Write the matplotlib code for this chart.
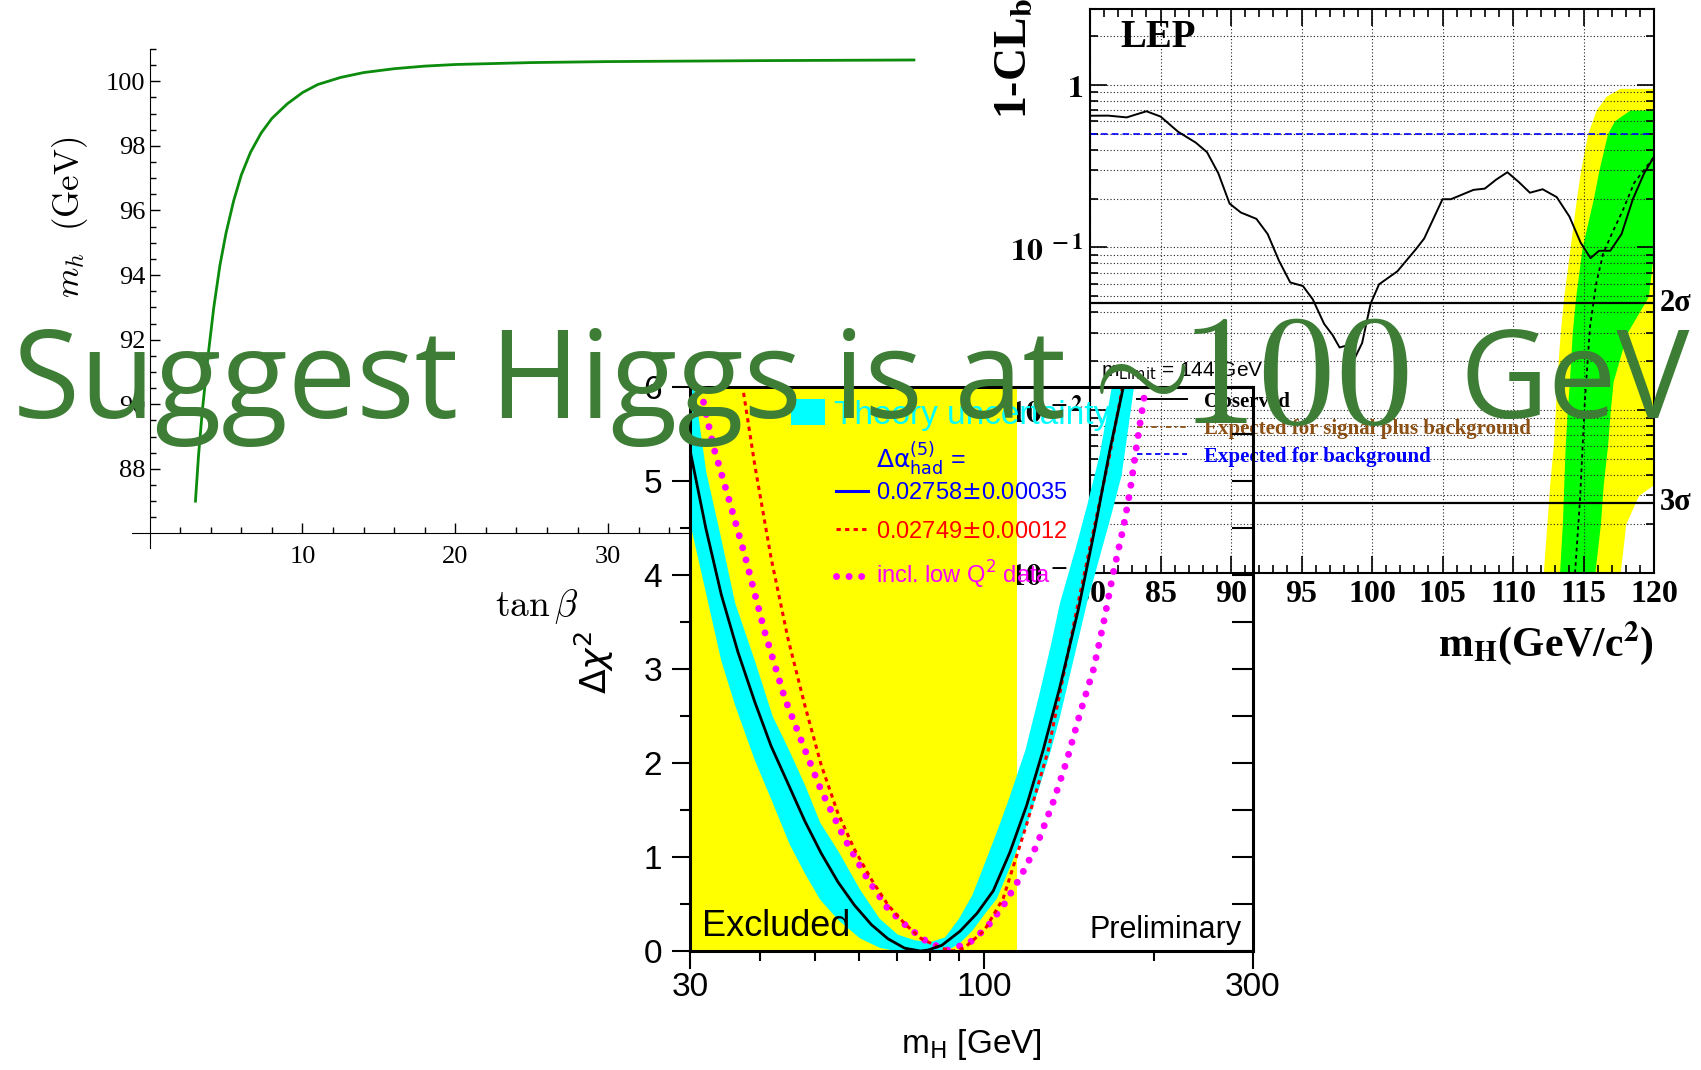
import numpy as np
import matplotlib
matplotlib.use('Agg')
import matplotlib.pyplot as plt
import matplotlib.transforms as mtrans
from matplotlib.patches import Patch
from matplotlib.lines import Line2D
from matplotlib.ticker import FixedLocator, NullFormatter, LogLocator

W, H = 1701, 1070

# left panel: light higgs mass vs tan(beta)
tanb = [3.0, 3.2, 3.45, 3.8, 4.2, 4.6, 5.0, 5.5, 6.0, 6.6, 7.3, 8.0, 9.0, 10.0,
        11.0, 12.5, 14.0, 16.0, 18.0, 20.0, 25.0, 30.0, 40.0, 50.0]
mh = [87.0, 88.4, 89.8, 91.4, 93.0, 94.3, 95.3, 96.3, 97.1, 97.8, 98.4, 98.85,
      99.3, 99.65, 99.9, 100.12, 100.27, 100.39, 100.47, 100.52, 100.58, 100.61,
      100.64, 100.66]

# LEP 1-CLb panel
lep_m = [80.0, 81.3, 82.6, 84.0, 85.0, 86.25, 87.5, 88.3, 89.1, 89.9, 90.7, 91.8,
         92.6, 93.4, 94.2, 95.1, 95.8, 96.6, 97.2, 97.7, 98.2, 98.8, 99.3, 99.9,
         100.5, 101.8, 103.1, 103.7, 105.0, 105.6, 107.2, 108.0, 108.8, 109.6,
         110.4, 111.2, 112.1, 113.1, 114.0, 114.8, 115.5, 116.1, 116.9, 117.7,
         118.5, 119.3, 120.0]
lep_obs = [0.645, 0.646, 0.63, 0.687, 0.638, 0.514, 0.441, 0.385, 0.286, 0.186,
           0.164, 0.150, 0.121, 0.083, 0.061, 0.058, 0.048, 0.034, 0.029, 0.0243,
           0.025, 0.0211, 0.0259, 0.0451, 0.0594, 0.0714, 0.0973, 0.1135, 0.198,
           0.198, 0.226, 0.23, 0.261, 0.29, 0.253, 0.217, 0.228, 0.204, 0.155,
           0.107, 0.086, 0.0955, 0.0955, 0.121, 0.198, 0.286, 0.361]
sb_m = [114.4, 114.75, 115.1, 115.46, 115.9, 116.4, 117.0, 117.8, 118.6, 119.3, 120.0]
sb_val = [0.001, 0.0028, 0.0115, 0.0325, 0.060, 0.092, 0.121, 0.17, 0.25, 0.30, 0.36]

yel_y = [0.001, 0.002, 0.003, 0.0035, 0.006, 0.01, 0.015, 0.03, 0.05, 0.1, 0.2,
         0.3, 0.5, 0.7, 0.85, 0.95]
yel_lo = [112.15, 112.4, 112.55, 112.6, 112.85, 113.0, 113.1, 113.35, 113.6, 114.05,
          114.5, 114.8, 115.3, 115.9, 116.6, 117.6]
yel_hi = [117.6, 118.0, 118.9, 120.0, 120.0, 120.0, 120.0, 120.0, 120.0, 120.0,
          120.0, 120.0, 120.0, 120.0, 120.0, 120.0]
grn_y = [0.001, 0.002, 0.0035, 0.006, 0.01, 0.015, 0.03, 0.05, 0.1, 0.2, 0.3, 0.5,
         0.6, 0.7]
grn_lo = [113.3, 113.5, 113.6, 113.7, 113.85, 114.0, 114.2, 114.45, 114.9, 115.7,
          116.1, 116.7, 117.2, 118.3]
grn_hi = [115.8, 116.2, 116.4, 116.7, 116.9, 117.1, 118.1, 119.6, 120.0, 120.0,
          120.0, 120.0, 120.0, 120.0]
bkg_expected = 0.5
sigma2 = 0.0455
sigma3 = 0.0027
lep_xticks = [80, 85, 90, 95, 100, 105, 110, 115, 120]

# blueband panel
mh_limit = 114.4
band_m = [30, 32, 34, 36, 39, 42, 45, 48, 51, 55, 60, 65, 70, 75, 80, 85, 90, 95,
          100, 105, 110, 118, 125, 131, 136, 145, 152, 160, 168, 175, 184, 190]
band_lo = [4.54, 3.8, 3.1, 2.62, 2.04, 1.58, 1.14, 0.82, 0.55, 0.33, 0.14, 0.04,
           0, 0, 0, 0, 0.08, 0.22, 0.4, 0.56, 0.85, 1.3, 1.75, 2.14, 2.5, 3.2, 3.72,
           4.2, 4.66, 5.07, 6.0, 6.4]
band_hi = [6.3, 5.1, 4.4, 3.71, 3.1, 2.5, 2.13, 1.76, 1.37, 1.06, 0.66, 0.35, 0.18,
           0.12, 0.1, 0.15, 0.35, 0.6, 0.94, 1.27, 1.6, 2.14, 2.74, 3.26, 3.71, 4.29,
           4.75, 5.29, 6.0, 6.5, 7.0, 7.3]
blk_m = [30, 32.0, 34.1, 36.5, 39.1, 41.8, 44.8, 48.0, 51.3, 55.0, 58.8, 63.0, 67.4,
         72.2, 77.0, 79.4, 84.0, 90.5, 97.0, 103.7, 111.0, 118.9, 127.2, 136.2,
         146.8, 157.2, 167.1, 176.5, 180]
blk_c = [5.33, 4.5, 3.79, 3.18, 2.65, 2.18, 1.78, 1.38, 1.04, 0.73, 0.486, 0.28,
         0.13, 0.03, 0.0, 0.01, 0.06, 0.21, 0.4, 0.64, 1.05, 1.55, 2.14, 2.81, 3.63,
         4.5, 5.33, 6.0, 6.3]
red_m = [36.8, 37.3, 39.1, 41.8, 44.8, 48.0, 51.3, 54.9, 58.8, 63.0, 67.4, 72.2,
         77.3, 83.8, 88.0, 92.0, 100.0, 108.0, 118.9, 129.9, 146.8, 167.1, 175.2, 178]
red_c = [6.3, 5.96, 5.17, 4.18, 3.32, 2.61, 1.98, 1.47, 1.08, 0.76, 0.49, 0.29,
         0.13, 0.03, 0.0, 0.03, 0.22, 0.56, 1.35, 2.14, 3.71, 5.29, 5.94, 6.2]
mag_m = [31.0, 33.0, 35.0, 37.5, 40.7, 44.2, 48.0, 51.3, 56.5, 62.1, 67.4, 73.2,
         79.4, 86.1, 94.2, 101.0, 108.0, 115.7, 123.8, 132.6, 140.0, 147.9, 156.3,
         162.7, 169.5, 176.5, 181.4, 186.3, 193.0]
mag_c = [6.1, 5.37, 4.85, 4.22, 3.40, 2.69, 2.14, 1.71, 1.19, 0.76, 0.45, 0.25,
         0.09, 0.01, 0.09, 0.25, 0.48, 0.78, 1.12, 1.59, 2.02, 2.53, 3.0, 3.48,
         4.03, 4.5, 4.89, 5.37, 5.96]

fig = plt.figure(figsize=(W / 100, H / 100), dpi=100)

# ---------------- left panel (mathematica style axes)
ax1 = fig.add_axes([132 / W, 1 - 548 / H, 785 / W, 499 / H])
ax1.patch.set_visible(False)
ax1.plot(tanb, mh, color='#0c8c0c', lw=2)
ax1.set_xlim(-1.15, 50.2)
ax1.set_ylim(85.55, 101.0)
ax1.spines['left'].set_position(('data', 0))
ax1.spines['bottom'].set_position(('data', 86))
ax1.spines[['top', 'right']].set_visible(False)
ax1.set_xticks([10, 20, 30, 40, 50])
ax1.set_xticks(np.arange(2, 50, 2), minor=True)
ax1.set_yticks(np.arange(88, 101, 2))
ax1.set_yticks(np.arange(86.5, 101.1, 0.5), minor=True)
ax1.tick_params(which='both', direction='in', width=1, labelsize=19)
ax1.tick_params(which='major', length=7)
ax1.tick_params(which='minor', length=4)
ax1.tick_params(axis='x', pad=9)
ax1.tick_params(axis='y', pad=3)
for t in ax1.get_xticklabels() + ax1.get_yticklabels():
    t.set_fontfamily('Liberation Serif')
fig.text(537 / W, 1 - 607 / H, r'$\tan\beta$', math_fontfamily='cm', fontsize=27,
         ha='center', va='center')
fig.text(70 / W, 1 - 217 / H, r'$m_h\ \ \mathrm{(GeV)}$', math_fontfamily='cm',
         fontsize=25, rotation=90, ha='center', va='center')

# ---------------- LEP panel
ax2 = fig.add_axes([1090 / W, 1 - 573 / H, 564 / W, 564 / H])
ax2.set_yscale('log')
ax2.fill_betweenx(yel_y, yel_lo, yel_hi, color='#ffff00', lw=0, zorder=1)
ax2.fill_betweenx(grn_y, grn_lo, grn_hi, color='#00ff00', lw=0, zorder=1.1)
ax2.axhline(bkg_expected, color='blue', ls=(0, (4, 2.5)), lw=1.2, zorder=2)
ax2.axhline(sigma2, color='k', lw=1.6, zorder=2)
ax2.axhline(sigma3, color='k', lw=1.6, zorder=2)
ax2.plot(sb_m, sb_val, color='k', ls=(0, (2, 2)), lw=1.3, zorder=2.5)
ax2.plot(lep_m, lep_obs, color='k', lw=1.4, zorder=3)
ax2.set_xlim(80, 120)
ax2.set_ylim(1e-3, 2.92)
ax2.set_xticks(lep_xticks)
ax2.set_xticklabels([str(v) for v in lep_xticks], fontfamily='Liberation Serif',
                    fontweight='bold', fontsize=23)
ax2.set_xticks(np.arange(80, 121, 1), minor=True)
ax2.set_yticks([1e-3, 1e-2, 1e-1, 1])
ax2.set_yticklabels([r'$\mathbf{10}^{\mathbf{\ -3}}$', r'$\mathbf{10}^{\mathbf{\ -2}}$',
                     r'$\mathbf{10}^{\mathbf{\ -1}}$', r'$\mathbf{1}$'], fontsize=23)
for t in ax2.get_yticklabels():
    t.set_math_fontfamily('stix')
ax2.yaxis.set_minor_locator(LogLocator(base=10, subs=np.arange(2, 10)))
ax2.yaxis.set_minor_formatter(NullFormatter())
ax2.tick_params(which='both', direction='in', top=True, right=True, width=1.2, pad=5)
ax2.tick_params(which='major', length=12)
ax2.tick_params(which='minor', length=6)
ax2.grid(True, which='both', axis='y', ls=(0, (1, 2)), color='#222222', lw=0.8)
ax2.grid(True, which='major', axis='x', ls=(0, (1, 2)), color='#222222', lw=0.8)
for s in ax2.spines.values():
    s.set_linewidth(1.5)

ax2.text(0.053, 0.9486, 'LEP', transform=ax2.transAxes, fontfamily='Liberation Serif',
         fontweight='bold', fontsize=28, va='center', ha='left')
ax2.text(0.0195, 0.358, r'm$_{\rm Limit}$ = 144 GeV', transform=ax2.transAxes,
         fontfamily='Liberation Sans', fontsize=15, va='center', ha='left',
         math_fontfamily='dejavusans')
tr = mtrans.blended_transform_factory(ax2.transAxes, ax2.transData)
for val, lab in [(sigma2, '2σ'), (sigma3, '3σ')]:
    ax2.text(1.01, val, lab, transform=tr, fontfamily='Liberation Serif',
             fontweight='bold', fontsize=22, va='center', ha='left', clip_on=False)
lep_handles = [Line2D([], [], color='k', lw=1.4),
               Line2D([], [], color='#8c5014', ls=(0, (3, 2, 1, 2)), lw=1.3),
               Line2D([], [], color='blue', ls=(0, (3, 2)), lw=1.3)]
ax2.legend(lep_handles, ['Observed', 'Expected for signal plus background',
                         'Expected for background'],
           loc='upper left', bbox_to_anchor=(0.0833, 0.3218), frameon=False,
           prop={'family': 'Liberation Serif', 'weight': 'bold', 'size': 15},
           labelcolor=['black', '#8c5014', 'blue'], handlelength=2.4,
           handletextpad=0.8, labelspacing=0.36, borderpad=0, borderaxespad=0)
fig.text(1015 / W, 1 - 119 / H, r'1-CL$_{\mathbf{b}}$', rotation=90, ha='center',
         va='bottom', fontfamily='Liberation Serif', fontweight='bold', fontsize=33,
         math_fontfamily='stix')
fig.text(1654 / W, 1 - 643 / H, r'm$_{\mathbf{H}}$(GeV/c$^{\mathbf{2}}$)', ha='right',
         va='center', fontfamily='Liberation Serif', fontweight='bold', fontsize=30,
         math_fontfamily='stix')

# ---------------- blueband panel (transparent, on top of LEP)
ax3 = fig.add_axes([690 / W, 1 - 951 / H, 563 / W, 564 / H])
ax3.set_facecolor('none')
ax3.set_xscale('log')
ax3.axvspan(30, mh_limit, color='#ffff00', lw=0, zorder=0.5)
ax3.fill_between(band_m, band_lo, band_hi, color='#00ffff', lw=0, zorder=1)
ax3.plot(mag_m, mag_c, color='#ff00ff', lw=5, ls=(0, (0.01, 1.8)),
         dash_capstyle='round', zorder=2)
ax3.plot(red_m, red_c, color='red', lw=2.2, ls=(0, (1.4, 1.4)), zorder=2.5)
ax3.plot(blk_m, blk_c, color='black', lw=2, zorder=3)
ax3.set_xlim(30, 300)
ax3.set_ylim(0, 6)
ax3.xaxis.set_major_locator(FixedLocator([30, 100, 300]))
ax3.set_xticklabels(['30', '100', '300'])
ax3.xaxis.set_minor_locator(FixedLocator([40, 50, 60, 70, 80, 90, 200]))
ax3.xaxis.set_minor_formatter(NullFormatter())
ax3.set_yticks(range(0, 7))
ax3.set_yticks(np.arange(0, 6.01, 0.5), minor=True)
ax3.tick_params(which='both', direction='out', width=1.5, labelsize=24)
ax3.tick_params(which='major', length=13)
ax3.tick_params(which='minor', length=7)
ax3.tick_params(axis='x', pad=2)
ax3.tick_params(axis='y', pad=7)
for t in ax3.get_xticklabels() + ax3.get_yticklabels():
    t.set_fontfamily('Liberation Sans')
for s in ax3.spines.values():
    s.set_linewidth(2.2)
ax3r = ax3.twinx()
ax3r.set_ylim(0, 6)
ax3r.set_yticks(np.arange(0, 6.01, 0.5))
ax3r.tick_params(direction='in', length=15, width=1.5, labelright=False)
for s in ax3r.spines.values():
    s.set_visible(False)

leg1 = ax3.legend([Patch(facecolor='#00ffff', edgecolor='none')], ['Theory uncertainty'],
                  loc='center left', bbox_to_anchor=((791 - 690) / 563, (951 - 415) / 564),
                  frameon=False, prop={'family': 'Liberation Sans', 'size': 24},
                  labelcolor='#00ffff', handlelength=1.03, handleheight=0.8,
                  handletextpad=0.25, borderpad=0, borderaxespad=0)
ax3.add_artist(leg1)
bb_handles = [Line2D([], [], color='blue', lw=2.2),
              Line2D([], [], color='red', lw=2.2, ls=(0, (1.4, 1.4))),
              Line2D([], [], color='#ff00ff', lw=5, ls=(0, (0.01, 1.8)),
                     dash_capstyle='round')]
ax3.legend(bb_handles, [r'0.02758$\pm$0.00035', r'0.02749$\pm$0.00012',
                        r'incl. low Q$^2$ data'],
           loc='upper left', bbox_to_anchor=((836 - 690) / 563, (951 - 482) / 564),
           frameon=False, prop={'family': 'Liberation Sans', 'size': 17},
           labelcolor=['blue', 'red', '#ff00ff'], handlelength=1.35,
           handletextpad=0.35, labelspacing=0.7, borderpad=0, borderaxespad=0)
ax3.text((876 - 690) / 563, (951 - 458) / 564, r'$\Delta\mathrm{\alpha}^{(5)}_{\rm had}$ =',
         transform=ax3.transAxes, color='blue', fontsize=18, fontfamily='Liberation Sans',
         math_fontfamily='dejavusans', va='center', ha='left')
ax3.text(0.0213, 0.0426, 'Excluded', transform=ax3.transAxes, fontsize=26,
         fontfamily='Liberation Sans', va='center', ha='left')
ax3.text(0.9805, 0.037, 'Preliminary', transform=ax3.transAxes, fontsize=22,
         fontfamily='Liberation Sans', va='center', ha='right')
fig.text(594 / W, 1 - 662 / H, r'$\Delta\chi^2$', rotation=90, fontsize=26,
         math_fontfamily='dejavusans', ha='center', va='center')
fig.text(971 / W, 1 - 1044 / H, r'm$_{\rm H}$ [GeV]', fontsize=24,
         fontfamily='Liberation Sans', math_fontfamily='dejavusans',
         ha='center', va='center')

# ---------------- slide title on top of everything
title_color = '#3d7d35'
fig.text(13 / W, 1 - 418 / H, 'Suggest Higgs is at', fontfamily='Open Sans',
         fontsize=88, color=title_color, ha='left', va='baseline', zorder=20)
fig.text(1128 / W, 1 - 374 / H, r'$\sim$', math_fontfamily='cm', fontsize=92,
         color=title_color, ha='center', va='center', zorder=20)
fig.text(1180 / W, 1 - 423 / H, '100', fontfamily='cmr10', fontsize=112,
         color=title_color, ha='left', va='baseline', zorder=20)
fig.text(1459 / W, 1 - 418 / H, 'GeV', fontfamily='Open Sans', fontsize=88,
         color=title_color, ha='left', va='baseline', zorder=20)

fig.savefig('out.png', dpi=100)
